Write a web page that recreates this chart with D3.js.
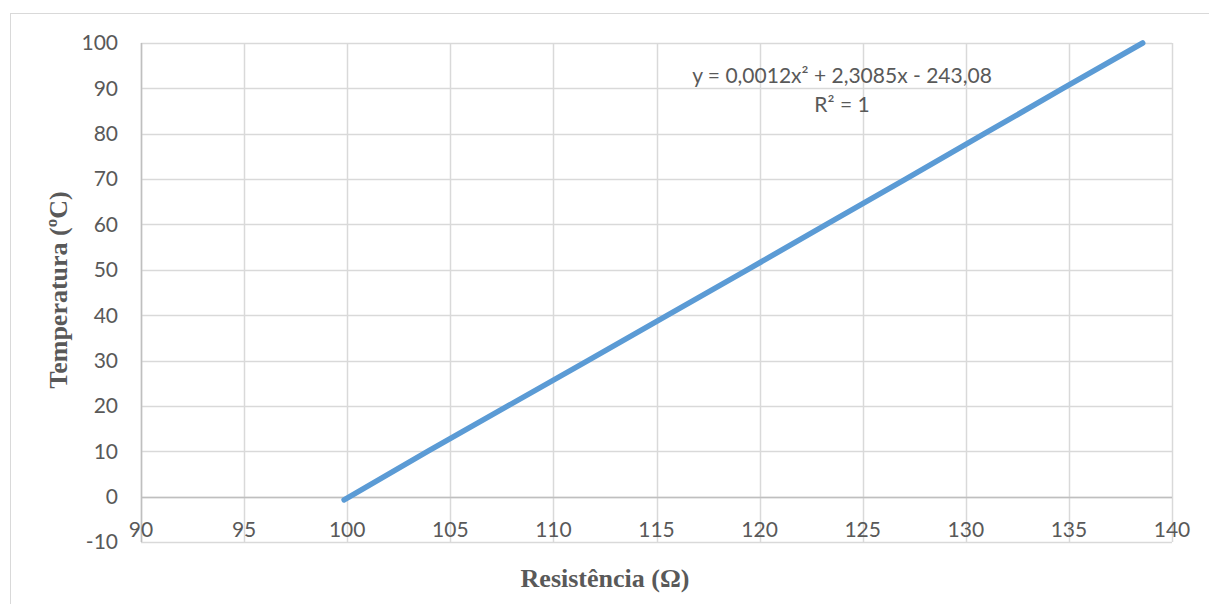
<!DOCTYPE html>
<html>
<head>
<meta charset="utf-8">
<script src="https://cdn.jsdelivr.net/npm/d3@7"></script>
<style>
  html, body { margin: 0; padding: 0; background: #fff; }
  svg { display: block; }
</style>
</head>
<body>
<svg id="chart" width="1209" height="604"></svg>
<script>
// ---- data ----
const resistance = [99.85, 103.90, 107.79, 111.67, 115.54, 119.40, 123.24, 127.08, 130.90, 134.71, 138.58];
const temperature = [-0.7, 10, 20, 30, 40, 50, 60, 70, 80, 90, 100];
const xTicks = [90, 95, 100, 105, 110, 115, 120, 125, 130, 135, 140];
const yTicks = [-10, 0, 10, 20, 30, 40, 50, 60, 70, 80, 90, 100];
const xTitle = "Resistência (Ω)";
const yTitle = "Temperatura (ºC)";
const eqLine1 = "y = 0,0012x² + 2,3085x - 243,08";
const eqLine2 = "R² = 1";

(function () {
const svg = d3.select("#chart");
const W = 1209, H = 604;
const pLeft = 141, pRight = 1172, pTop = 43, pBottom = 542;

const x = d3.scaleLinear().domain([90, 140]).range([pLeft, pRight]);
const y = d3.scaleLinear().domain([-10, 100]).range([pBottom, pTop]);

const tickFont = "Lato, 'Open Sans', sans-serif";
const textColor = "#595959";
const fs = 21;

// chart frame
svg.append("rect")
  .attr("x", 10.5).attr("y", 13.5)
  .attr("width", W + 10).attr("height", H + 10)
  .attr("fill", "none").attr("stroke", "#d9d9d9").attr("stroke-width", 1);

// gridlines
const grid = svg.append("g");
grid.selectAll("line.v").data(xTicks).join("line")
  .attr("x1", d => Math.round(x(d)) + 0.5).attr("x2", d => Math.round(x(d)) + 0.5)
  .attr("y1", pTop).attr("y2", pBottom)
  .attr("stroke", "#d9d9d9").attr("stroke-width", 1.5);
grid.selectAll("line.h").data(yTicks).join("line")
  .attr("y1", d => Math.round(y(d)) + 0.5).attr("y2", d => Math.round(y(d)) + 0.5)
  .attr("x1", pLeft).attr("x2", pRight)
  .attr("stroke", "#d9d9d9").attr("stroke-width", 1.5);

// axis lines (x axis crosses at 0)
svg.append("line")
  .attr("x1", pLeft).attr("x2", pRight)
  .attr("y1", Math.round(y(0)) + 0.5).attr("y2", Math.round(y(0)) + 0.5)
  .attr("stroke", "#bfbfbf").attr("stroke-width", 1.5);
svg.append("line")
  .attr("x1", Math.round(x(90)) + 0.5).attr("x2", Math.round(x(90)) + 0.5)
  .attr("y1", pTop).attr("y2", pBottom)
  .attr("stroke", "#bfbfbf").attr("stroke-width", 1.5);

// y tick labels
svg.append("g").selectAll("text").data(yTicks).join("text")
  .attr("x", 118).attr("y", d => y(d))
  .attr("dy", "0.35em")
  .attr("text-anchor", "end")
  .attr("font-family", tickFont).attr("font-size", fs)
  .attr("fill", textColor)
  .text(d => d);

// x tick labels (below the 0 axis)
svg.append("g").selectAll("text").data(xTicks).join("text")
  .attr("x", d => x(d)).attr("y", y(0) + 40)
  .attr("text-anchor", "middle")
  .attr("font-family", tickFont).attr("font-size", fs)
  .attr("fill", textColor)
  .text(d => d);

// data line
const pts = resistance.map((r, i) => [r, temperature[i]]);
svg.append("path")
  .datum(pts)
  .attr("d", d3.line().x(d => x(d[0])).y(d => y(d[1])))
  .attr("fill", "none")
  .attr("stroke", "#5b9bd5")
  .attr("stroke-width", 5.5)
  .attr("stroke-linecap", "round")
  .attr("stroke-linejoin", "round");

// trendline equation
svg.append("text")
  .attr("x", 842).attr("y", 83)
  .attr("text-anchor", "middle")
  .attr("font-family", tickFont).attr("font-size", fs)
  .attr("fill", textColor)
  .text(eqLine1);
svg.append("text")
  .attr("x", 842).attr("y", 112)
  .attr("text-anchor", "middle")
  .attr("font-family", tickFont).attr("font-size", fs)
  .attr("fill", textColor)
  .text(eqLine2);

// axis titles
svg.append("text")
  .attr("x", 605).attr("y", 587)
  .attr("text-anchor", "middle")
  .attr("font-family", "'Liberation Serif', 'Times New Roman', serif")
  .attr("font-weight", "bold").attr("font-size", 26)
  .attr("fill", textColor)
  .text(xTitle);
svg.append("text")
  .attr("transform", "translate(67,290) rotate(-90)")
  .attr("text-anchor", "middle")
  .attr("font-family", "'Liberation Serif', 'Times New Roman', serif")
  .attr("font-weight", "bold").attr("font-size", 26)
  .attr("fill", textColor)
  .text(yTitle);
})();
</script>
</body>
</html>
